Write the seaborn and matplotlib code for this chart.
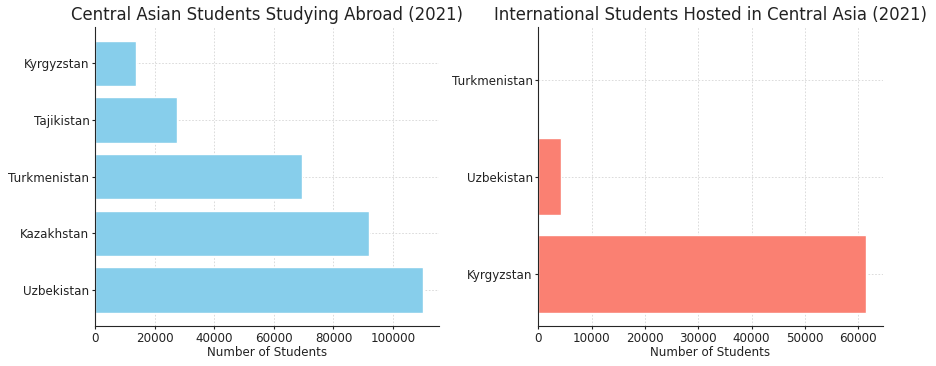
import matplotlib
matplotlib.use("Agg")
import matplotlib.pyplot as plt
import seaborn as sns
import pandas as pd

# data (top-to-bottom order as shown)
abroad_countries = ["Kyrgyzstan", "Tajikistan", "Turkmenistan", "Kazakhstan", "Uzbekistan"]
abroad_students = [13600, 27400, 69500, 91800, 109900]

hosted_countries = ["Turkmenistan", "Uzbekistan", "Kyrgyzstan"]
hosted_students = [0, 4200, 61500]

sns.set_style("ticks")
plt.rcParams["font.family"] = ["DejaVu Sans"]
plt.rcParams["text.color"] = "#222222"
plt.rcParams["axes.labelcolor"] = "#222222"
plt.rcParams["xtick.color"] = "#222222"
plt.rcParams["ytick.color"] = "#222222"

fig = plt.figure(figsize=(9.36, 3.66), dpi=100)
ax1 = fig.add_axes([0.1015, 0.109, 0.3675, 0.817])
ax2 = fig.add_axes([0.575, 0.109, 0.368, 0.817])


def draw(ax, countries, values, color, title):
    df = pd.DataFrame({"country": countries, "students": values})
    sns.barplot(data=df, y="country", x="students", order=countries,
                color=color, saturation=1, width=0.8, ax=ax)
    # matplotlib-style margins around the bars
    ax.autoscale(enable=True, axis="y")
    ax.margins(y=0.05)
    ax.autoscale_view()
    ax.set_title(title, fontsize=11.9, pad=5)
    ax.set_xlabel("Number of Students", fontsize=8.6, labelpad=1)
    ax.set_ylabel("")
    ax.tick_params(labelsize=8.6, length=2.5, pad=1.5)
    ax.grid(True, linestyle=(0, (2, 2)), linewidth=0.6, color="#cccccc", alpha=0.8)
    ax.set_axisbelow(True)
    sns.despine(ax=ax)


draw(ax1, abroad_countries, abroad_students, "skyblue",
     "Central Asian Students Studying Abroad (2021)")
draw(ax2, hosted_countries, hosted_students, "salmon",
     "International Students Hosted in Central Asia (2021)")

fig.savefig("out.png", dpi=100)
